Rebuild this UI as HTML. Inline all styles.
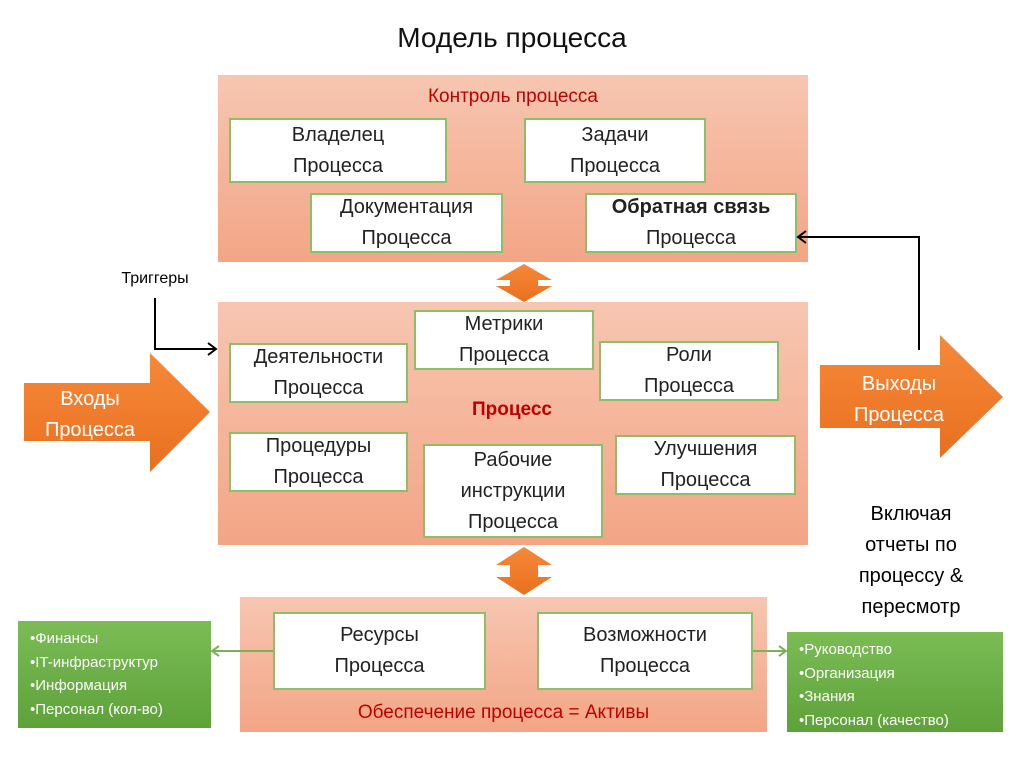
<!DOCTYPE html>
<html><head><meta charset="utf-8"><style>
html,body{margin:0;padding:0;background:#fff;}
body{width:1024px;height:767px;position:relative;overflow:hidden;font-family:"Liberation Sans",sans-serif;}
.abs{position:absolute;}
.panel{position:absolute;background:linear-gradient(#f7c6b1,#f3a586);}
.box{position:absolute;background:#fff;border:2px solid #8cc068;box-sizing:border-box;display:flex;align-items:center;justify-content:center;text-align:center;font-size:20px;line-height:31px;color:#222;}
.red{color:#c00000;font-size:19px;text-align:center;position:absolute;}
.green{position:absolute;background:linear-gradient(#7bbc55,#5ea23a);color:#fff;font-size:15px;line-height:23.5px;box-sizing:border-box;padding:6px 0 0 12px;}
</style></head><body>
<div class="abs" style="left:0;width:1024px;top:22px;text-align:center;font-size:28px;color:#111;">Модель процесса</div>

<div class="panel" style="left:218px;top:75px;width:590px;height:187px;"></div>
<div class="red" style="left:218px;width:590px;top:86px;">Контроль процесса</div>
<div class="box" style="left:229px;top:118px;width:218px;height:65px;">Владелец<br>Процесса</div>
<div class="box" style="left:524px;top:118px;width:182px;height:65px;">Задачи<br>Процесса</div>
<div class="box" style="left:310px;top:193px;width:193px;height:60px;">Документация<br>Процесса</div>
<div class="box" style="left:585px;top:193px;width:212px;height:60px;"><span><b>Обратная связь</b><br>Процесса</span></div>

<div class="panel" style="left:218px;top:302px;width:590px;height:243px;"></div>
<div class="box" style="left:414px;top:310px;width:180px;height:60px;">Метрики<br>Процесса</div>
<div class="box" style="left:229px;top:343px;width:179px;height:60px;">Деятельности<br>Процесса</div>
<div class="box" style="left:599px;top:341px;width:180px;height:60px;">Роли<br>Процесса</div>
<div class="red" style="left:412px;width:200px;top:399px;font-weight:bold;">Процесс</div>
<div class="box" style="left:229px;top:432px;width:179px;height:60px;">Процедуры<br>Процесса</div>
<div class="box" style="left:423px;top:444px;width:180px;height:94px;">Рабочие<br>инструкции<br>Процесса</div>
<div class="box" style="left:615px;top:435px;width:181px;height:60px;">Улучшения<br>Процесса</div>

<div class="panel" style="left:240px;top:597px;width:527px;height:135px;"></div>
<div class="box" style="left:273px;top:612px;width:213px;height:78px;">Ресурсы<br>Процесса</div>
<div class="box" style="left:537px;top:612px;width:216px;height:78px;">Возможности<br>Процесса</div>
<div class="red" style="left:240px;width:527px;top:702px;">Обеспечение процесса = Активы</div>

<div class="green" style="left:18px;top:621px;width:193px;height:107px;">•Финансы<br>•IT-инфраструктур<br>•Информация<br>•Персонал (кол-во)</div>
<div class="green" style="left:787px;top:632px;width:216px;height:100px;">•Руководство<br>•Организация<br>•Знания<br>•Персонал (качество)</div>

<div class="abs" style="left:100px;width:110px;top:270px;text-align:center;font-size:16px;">Триггеры</div>
<div class="abs" style="left:826px;width:170px;top:499px;text-align:center;font-size:20px;line-height:31px;">Включая<br>отчеты по<br>процессу &amp;<br>пересмотр</div>

<svg class="abs" style="left:0;top:0;" width="1024" height="767">
<defs>
<linearGradient id="og" x1="0" y1="0" x2="0" y2="1"><stop offset="0" stop-color="#f6893a"/><stop offset="1" stop-color="#e8701f"/></linearGradient>
</defs>
<polygon points="24,383 150,383 150,353 210,412 150,472 150,441 24,441" fill="url(#og)"/>
<polygon points="820,365 940,365 940,335 1003,397 940,458 940,428 820,428" fill="url(#og)"/>
<polygon points="524,264 552,280 538,280 538,286 552,286 524,302 496,286 510,286 510,280 496,280" fill="url(#og)"/>
<polygon points="524,547 552,565 538,565 538,577 552,577 524,595 496,577 510,577 510,565 496,565" fill="url(#og)"/>
<polyline points="155,298 155,349 215,349" fill="none" stroke="#000" stroke-width="2"/>
<polyline points="208,343 216,349 208,355" fill="none" stroke="#000" stroke-width="2"/>
<polyline points="919,350 919,237 799,237" fill="none" stroke="#000" stroke-width="2"/>
<polyline points="806,231 798,237 806,243" fill="none" stroke="#000" stroke-width="2"/>
<line x1="273" y1="651" x2="213" y2="651" stroke="#7ab356" stroke-width="2"/>
<polyline points="219,646 212,651 219,656" fill="none" stroke="#7ab356" stroke-width="2"/>
<line x1="753" y1="651" x2="785" y2="651" stroke="#7ab356" stroke-width="2"/>
<polyline points="779,646 786,651 779,656" fill="none" stroke="#7ab356" stroke-width="2"/>
<text x="90" y="405" font-family="Liberation Sans" font-size="20" fill="#fff" text-anchor="middle">Входы</text>
<text x="90" y="436" font-family="Liberation Sans" font-size="20" fill="#fff" text-anchor="middle">Процесса</text>
<text x="899" y="390" font-family="Liberation Sans" font-size="20" fill="#fff" text-anchor="middle">Выходы</text>
<text x="899" y="421" font-family="Liberation Sans" font-size="20" fill="#fff" text-anchor="middle">Процесса</text>
</svg>
</body></html>
